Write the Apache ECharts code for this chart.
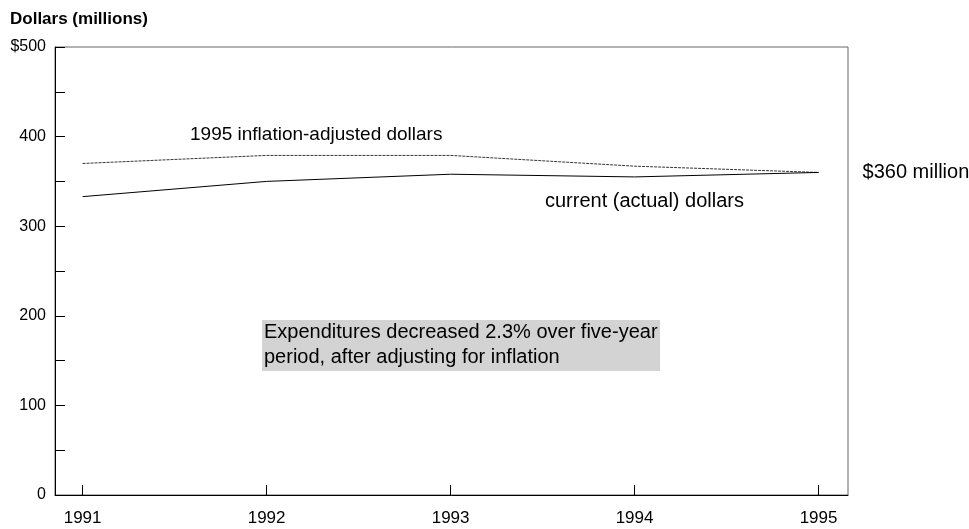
<!DOCTYPE html>
<html>
<head>
<meta charset="utf-8">
<script src="https://cdn.jsdelivr.net/npm/echarts@6/dist/echarts.min.js"></script>
<style>
  html, body { margin: 0; padding: 0; background: #fff; }
  #chart { width: 969px; height: 529px; }
</style>
</head>
<body>
<div id="chart"></div>
<script>
// chart data
var years = [1991, 1992, 1993, 1994, 1995];
var adjusted = [370, 379, 379, 367, 360];
var current = [333, 350, 358, 355, 360];
var yTicks = [0, 100, 200, 300, 400, 500];

var font = "Liberation Sans, Arial, sans-serif";

function pairs(vals) {
  return years.map(function (y, i) { return [y, vals[i]]; });
}

var myChart = echarts.init(document.getElementById("chart"));
var option = {
  animation: false,
  grid: {
    left: 55,
    right: 121,
    top: 47,
    bottom: 34,
    show: true,
    borderColor: "#666",
    borderWidth: 1
  },
  xAxis: {
    type: "value",
    min: 1990.85,
    max: 1995.16,
    splitLine: { show: false },
    axisLine: { lineStyle: { color: "#000" } },
    axisTick: { inside: true, length: 10, lineStyle: { color: "#000" }, customValues: years },
    axisLabel: {
      customValues: years,
      color: "#000",
      fontSize: 17,
      fontFamily: font,
      margin: 15,
      formatter: function (v) { return String(v); }
    }
  },
  yAxis: {
    type: "value",
    min: 0,
    max: 500,
    interval: 50,
    splitLine: { show: false },
    axisLine: { show: true, lineStyle: { color: "#000" } },
    axisTick: { inside: true, length: 10, lineStyle: { color: "#000" } },
    axisLabel: {
      color: "#000",
      fontSize: 16,
      fontFamily: font,
      margin: 9,
      formatter: function (v) {
        if (yTicks.indexOf(v) < 0) return "";
        return v === 500 ? "$500" : String(v);
      }
    }
  },
  series: [
    {
      name: "1995 inflation-adjusted dollars",
      type: "line",
      data: pairs(adjusted),
      symbol: "none",
      lineStyle: { color: "#333", width: 1, type: [3, 1] }
    },
    {
      name: "current (actual) dollars",
      type: "line",
      data: pairs(current),
      symbol: "none",
      lineStyle: { color: "#000", width: 1 },
      endLabel: {
        show: true,
        formatter: "$360 million",
        color: "#000",
        fontSize: 20,
        fontFamily: font,
        distance: 44
      }
    }
  ],
  graphic: [
    {
      type: "text",
      left: 10,
      top: 11,
      style: { text: "Dollars (millions)", font: "bold 17px " + font, fill: "#000" }
    },
    {
      type: "text",
      left: 190,
      top: 125,
      style: { text: "1995 inflation-adjusted dollars", font: "19px " + font, fill: "#000" }
    },
    {
      type: "text",
      left: 545,
      top: 191,
      style: { text: "current (actual) dollars", font: "20px " + font, fill: "#000" }
    },
    {
      type: "rect",
      left: 262,
      top: 320,
      shape: { width: 398, height: 51 },
      style: { fill: "#d3d3d3" }
    },
    {
      type: "text",
      left: 264,
      top: 320,
      style: {
        text: "Expenditures decreased 2.3% over five-year\nperiod, after adjusting for inflation",
        font: "20px " + font,
        lineHeight: 25,
        fill: "#000"
      }
    }
  ]
};
myChart.setOption(option);
window.addEventListener("resize", function () {
  myChart.resize();
});
</script>
</body>
</html>
